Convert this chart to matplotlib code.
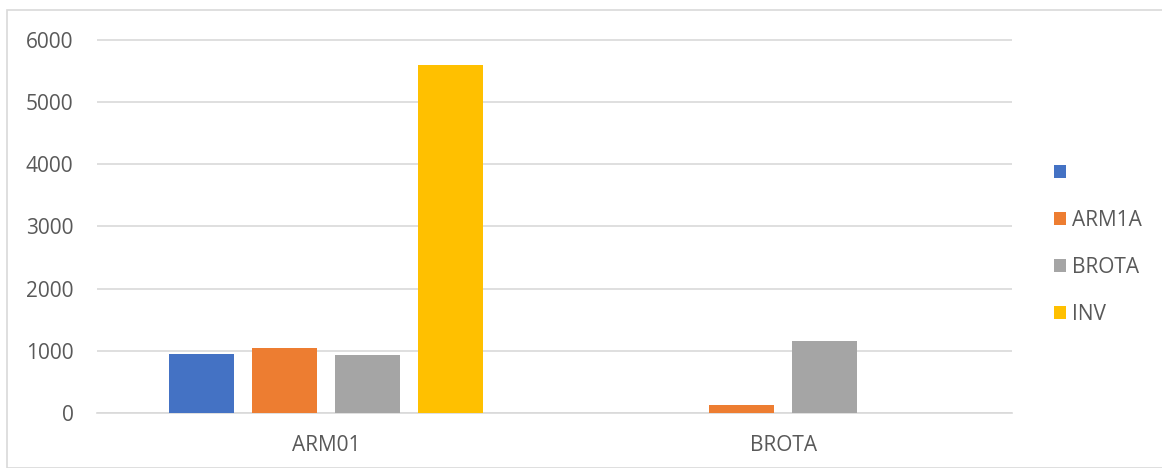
import matplotlib.pyplot as plt
import numpy as np
from matplotlib.patches import Rectangle

categories = ["ARM01", "BROTA"]
series_names = ["", "ARM1A", "BROTA", "INV"]
series_values = [
    [945, 5],
    [1050, 130],
    [925, 1155],
    [5600, 5],
]
colors = ["#4472C4", "#ED7D31", "#A5A5A5", "#FFC000"]
yticks = [0, 1000, 2000, 3000, 4000, 5000, 6000]

plt.rcParams['font.family'] = ['Open Sans', 'DejaVu Sans']

fig = plt.figure(figsize=(11.62, 4.68), dpi=100)
ax = fig.add_axes([97/1162, 1 - 413/468, 915/1162, 373/468 * 6300/6000])

x = np.arange(len(categories))
step = 83 / 457.5
width = 65 / 457.5
for i, (name, vals) in enumerate(zip(series_names, series_values)):
    ax.bar(x + (i - 1.5) * step, vals, width, color=colors[i], label=name if name else " ", zorder=3)

ax.set_xlim(-0.5, 1.5)
ax.set_ylim(0, 6300)
ax.set_yticks(yticks)
ax.grid(axis='y', color='#D9D9D9', linewidth=1.2, zorder=0)
ax.set_xticks(x)
ax.set_xticklabels(categories)
ax.tick_params(length=0, labelsize=15, colors='#595959')
ax.tick_params(axis='y', pad=17)
ax.tick_params(axis='x', pad=16)
for s in ['top', 'right', 'left']:
    ax.spines[s].set_visible(False)
ax.spines['bottom'].set_color('#D9D9D9')
ax.spines['bottom'].set_linewidth(1.2)
ax.patch.set_alpha(0)

leg = fig.legend(loc='center left', bbox_to_anchor=(1035/1162, 1 - 244/468), frameon=False,
                 fontsize=15, labelspacing=1.25, handlelength=0.6, handleheight=0.6,
                 handletextpad=0.3, labelcolor='#595959')

# outer chart border
fig.patches.append(Rectangle((7/1162, 0), 1.2, 1 - 10/468, transform=fig.transFigure,
                             fill=False, edgecolor='#D9D9D9', linewidth=1.2))

fig.savefig("out.png", dpi=100)
